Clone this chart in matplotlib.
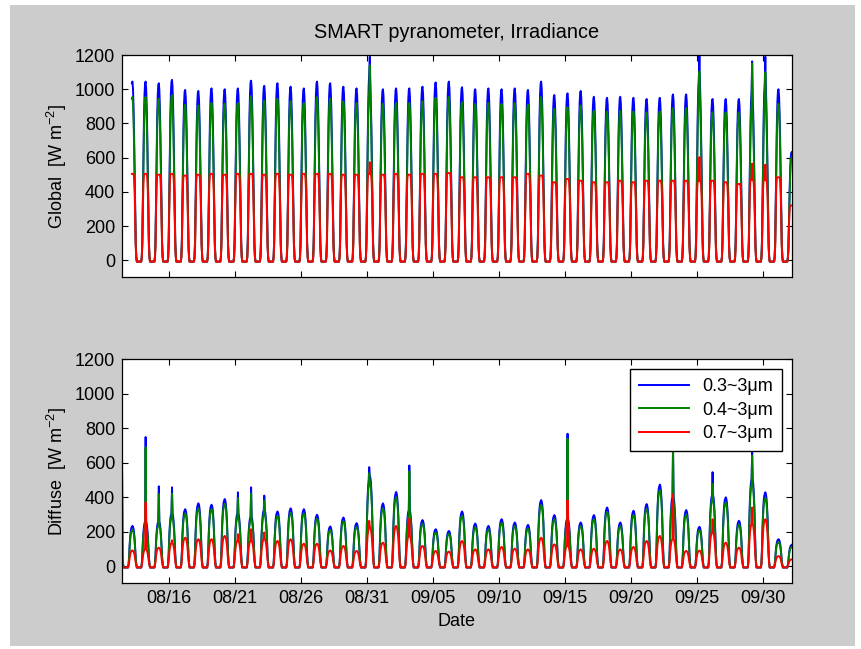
import matplotlib
matplotlib.use("Agg")
import matplotlib.pyplot as plt
import matplotlib.dates as mdates
from matplotlib.patches import Rectangle
from datetime import datetime, timedelta

plt.rcParams['font.family'] = ['Liberation Sans', 'DejaVu Sans']
plt.rcParams['font.size'] = 13
plt.rcParams['mathtext.fontset'] = 'custom'
plt.rcParams['mathtext.rm'] = 'Liberation Sans'

# ---- data ----
# local time = UTC + 7, day index 0 = Aug 13 (local)
LOCAL_OFFSET = 7
NIGHT = -8  # night-time reading, W m-2

# hourly shape of one day (local hours 0..23), fraction of the daily peak
GLOBAL_PROFILE = [0, 0, 0, 0, 0, 0.02, 0.12, 0.35, 0.60, 0.80, 0.93, 0.99,
                  1.00, 0.96, 0.86, 0.70, 0.50, 0.28, 0.10, 0.02, 0, 0, 0, 0]
RED_PROFILE = [0, 0, 0, 0, 0, 0.03, 0.16, 0.60, 0.90, 1.00, 1.00, 1.00,
               1.00, 1.00, 1.00, 0.95, 0.80, 0.45, 0.15, 0.03, 0, 0, 0, 0]
DIFFUSE_PROFILE = [0, 0, 0, 0, 0, 0.05, 0.25, 0.55, 0.75, 0.88, 0.95, 0.98,
                   1.00, 0.98, 0.93, 0.83, 0.68, 0.45, 0.20, 0.05, 0, 0, 0, 0]

# global: daily peaks, Aug 13 .. Oct 2
global_03 = [1045, 1045, 1035, 1055, 996, 990, 1005, 1000, 1005, 1050,
             1020, 1035, 1015, 1005, 1045, 1035, 1015, 1005, 1100, 1000,
             1005, 1005, 1015, 1040, 1045, 1012, 1000, 1005, 1000, 1005,
             996, 1045, 966, 976, 990, 956, 950, 956, 950, 943,
             950, 970, 970, 1080, 943, 943, 943, 1000, 1050, 1000,
             632]
global_04 = [955, 955, 945, 965, 910, 905, 920, 915, 920, 960,
             935, 945, 930, 920, 955, 945, 930, 920, 1005, 915,
             920, 920, 930, 950, 955, 925, 915, 920, 915, 920,
             910, 955, 885, 895, 905, 875, 870, 875, 870, 865,
             870, 890, 890, 990, 865, 865, 865, 915, 960, 915,
             600]
global_07 = [505, 505, 500, 505, 495, 500, 505, 500, 505, 505,
             500, 505, 500, 505, 505, 505, 500, 500, 505, 500,
             505, 500, 505, 505, 510, 485, 485, 485, 485, 485,
             505, 495, 456, 475, 465, 456, 456, 465, 456, 465,
             465, 465, 465, 465, 465, 456, 446, 470, 470, 485,
             320]
# (day, hour, 0.3, 0.4, 0.7) single-sample spikes
global_spikes = [(18, 12, 1190, 1140, 573), (43, 12, 1200, 1104, 603),
                 (47, 12, 1163, 1150, 565), (48, 12, 1190, 1100, 559)]

# diffuse: daily peaks, Aug 12 .. Oct 2
diffuse_03 = [200, 233, 262, 262, 311, 330, 364, 356, 389, 311,
              292, 330, 317, 335, 330, 298, 230, 282, 249, 525,
              364, 430, 330, 267, 214, 204, 317, 247, 233, 272,
              253, 239, 383, 296, 278, 253, 296, 340, 253, 321,
              360, 473, 409, 325, 228, 420, 399, 263, 516, 428,
              156, 123]
diffuse_04 = [185, 210, 240, 240, 285, 305, 335, 330, 360, 285,
              270, 305, 290, 310, 305, 275, 210, 260, 228, 490,
              335, 400, 305, 245, 195, 188, 292, 225, 213, 250,
              232, 218, 355, 272, 255, 232, 272, 313, 232, 295,
              332, 440, 378, 298, 208, 390, 368, 240, 480, 395,
              140, 110]
diffuse_07 = [30, 91, 100, 107, 136, 165, 156, 156, 175, 150,
              150, 160, 146, 156, 130, 130, 91, 117, 88, 230,
              136, 233, 180, 117, 88, 84, 146, 97, 97, 111,
              101, 97, 165, 126, 120, 97, 101, 146, 97, 111,
              146, 175, 160, 88, 90, 200, 136, 107, 250, 272,
              58, 39]
diffuse_spikes = [(-1, 17, 661, 613, 88), (1, 12, 749, 690, 370),
                  (2, 12, 463, 418, 107), (3, 12, 457, 420, 150),
                  (8, 12, 428, 395, 185), (9, 12, 457, 420, 214),
                  (10, 12, 409, 380, 195), (18, 11, 574, 540, 263),
                  (21, 12, 584, 550, 276), (33, 12, 768, 740, 383),
                  (41, 12, 700, 680, 418), (44, 12, 545, 477, 272),
                  (47, 12, 660, 640, 340)]

labels = ['0.3~3\u03bcm', '0.4~3\u03bcm', '0.7~3\u03bcm']
colors = ['#0000ff', '#008000', '#ff0000']
tick_dates = [datetime(2011, 8, 16) + timedelta(days=5 * k) for k in range(10)]

day0 = datetime(2011, 8, 13)


def build(first_day, start, end, peaks, profiles, spikes):
    spike_map = {(d, h): v for d, h, *v in spikes}
    t, series = [], [[] for _ in peaks]
    for d in range(first_day, first_day + len(peaks[0])):
        for h in range(24):
            if (d, h) < start or (d, h) > end:
                continue
            t.append(day0 + timedelta(days=d, hours=h - LOCAL_OFFSET))
            for k in range(len(peaks)):
                if (d, h) in spike_map:
                    series[k].append(spike_map[(d, h)][k])
                elif profiles[k][h] == 0:
                    series[k].append(NIGHT)
                else:
                    series[k].append(peaks[k][d - first_day] * profiles[k][h])
    return mdates.date2num(t), series


t_g, glob = build(0, (0, 11), (50, 12), [global_03, global_04, global_07],
                  [GLOBAL_PROFILE, GLOBAL_PROFILE, RED_PROFILE], global_spikes)
t_d, diff = build(-1, (-1, 17), (50, 12), [diffuse_03, diffuse_04, diffuse_07],
                  [DIFFUSE_PROFILE] * 3, diffuse_spikes)

fig = plt.figure(figsize=(8.61, 6.49), dpi=100)
fig.patch.set_facecolor('white')
fig.patches.append(Rectangle((10 / 861, 3 / 649), 845 / 861, 641 / 649,
                             transform=fig.transFigure, facecolor='#cccccc',
                             edgecolor='none', zorder=-10))

ax1 = fig.add_axes([0.1417, 0.5727, 0.7778, 0.3425])
ax2 = fig.add_axes([0.1417, 0.1012, 0.7778, 0.3452])

for ax, t, ser, name in [(ax1, t_g, glob, 'Global'), (ax2, t_d, diff, 'Diffuse')]:
    for y, c, lab in zip(ser, colors, labels):
        ax.plot(t, y, color=c, lw=1.4, label=lab)
    ax.set_xlim(t_d[0], t_d[-1])
    ax.set_ylim(-100, 1200)
    ax.set_yticks(range(0, 1201, 200))
    ax.set_xticks(mdates.date2num(tick_dates))
    ax.xaxis.set_major_formatter(mdates.DateFormatter('%m/%d'))
    ax.tick_params(direction='in', top=True, right=True, length=4.5,
                   width=0.8, pad=5)
    ax.set_ylabel(name + '  [W m$^{-2}$]')
    for s in ax.spines.values():
        s.set_linewidth(0.9)

ax1.tick_params(labelbottom=False)
ax1.set_title('SMART pyranometer, Irradiance', fontsize=14.3, pad=12)
ax2.set_xlabel('Date')
ax2.legend(loc='upper right', fancybox=False, edgecolor='black',
           framealpha=1, borderaxespad=0.55, borderpad=0.5,
           handlelength=2.8, handletextpad=0.7, labelspacing=0.35)

fig.savefig('out.png', dpi=100)
